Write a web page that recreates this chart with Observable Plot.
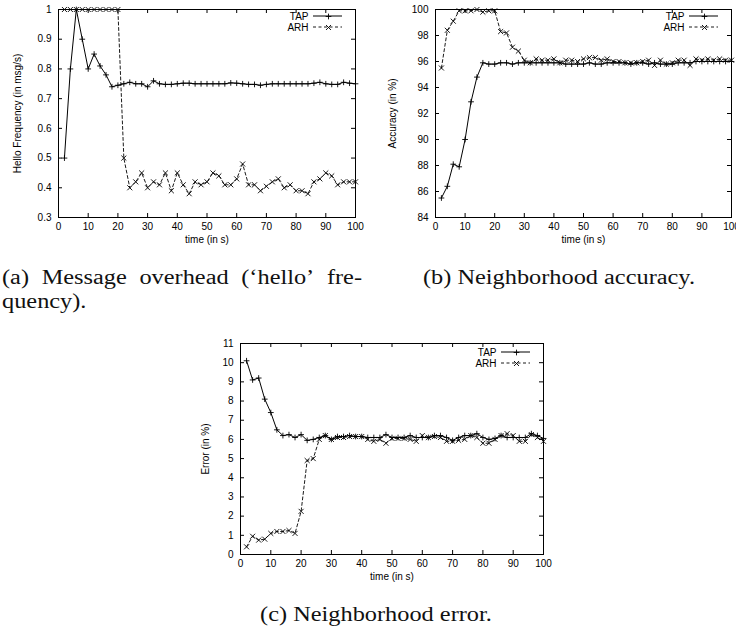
<!DOCTYPE html>
<html><head><meta charset="utf-8">
<script src="https://cdn.jsdelivr.net/npm/d3@7"></script>
<script src="https://cdn.jsdelivr.net/npm/@observablehq/plot@0.6"></script>
<style>
html,body{margin:0;padding:0;background:#fff;overflow:hidden}
#fig{position:relative;width:736px;height:634px;overflow:hidden;background:#fff}
.panel{position:absolute}
#caps{position:absolute;left:0;top:0}
</style></head><body><div id="fig"></div>
<script>
// ---------- data ----------
const time = [2,4,6,8,10,12,14,16,18,20,22,24,26,28,30,32,34,36,38,40,42,44,46,48,50,52,54,56,58,60,62,64,66,68,70,72,74,76,78,80,82,84,86,88,90,92,94,96,98,100];

const helloTAP = [0.50,0.80,1.00,0.90,0.80,0.85,0.81,0.78,0.74,0.745,
                  0.75,0.755,0.75,0.75,0.74,0.76,0.75,0.748,0.748,0.75,
                  0.752,0.752,0.75,0.75,0.75,0.75,0.75,0.75,0.753,0.752,
                  0.75,0.748,0.748,0.745,0.748,0.75,0.75,0.75,0.75,0.75,
                  0.75,0.75,0.752,0.755,0.75,0.748,0.748,0.755,0.752,0.75];
const helloARH = [1,1,1,1,1,1,1,1,1,1,
                  0.50,0.40,0.42,0.45,0.40,0.42,0.41,0.45,0.39,0.45,
                  0.41,0.38,0.42,0.41,0.42,0.45,0.44,0.41,0.41,0.43,
                  0.48,0.41,0.41,0.39,0.405,0.42,0.43,0.40,0.41,0.39,
                  0.39,0.38,0.42,0.43,0.45,0.44,0.41,0.42,0.42,0.42];

const accTAP = [85.5,86.4,88.1,87.9,90.0,92.9,94.8,95.9,95.8,95.8,
                95.9,95.9,95.8,95.9,95.9,95.9,95.9,95.9,95.9,95.9,
                95.9,95.8,95.8,95.8,95.8,95.9,95.8,95.8,95.9,95.9,
                95.9,95.9,95.8,95.9,95.9,95.8,95.9,95.8,95.8,95.8,
                95.9,95.9,95.9,96.0,96.0,96.0,96.0,96.0,96.0,96.0];
const accARH = [95.5,98.4,99.1,99.9,99.9,99.9,100,99.8,99.9,99.9,
                98.3,98.2,97.1,96.8,96.1,95.9,96.2,96.1,96.1,96.2,
                95.9,96.1,96.1,96.0,96.2,96.3,96.3,96.1,96.2,96.0,
                96.0,95.9,95.9,95.9,96.0,96.1,95.7,96.1,95.8,95.9,
                96.1,96.1,95.7,96.2,96.1,96.2,96.1,96.2,96.1,96.1];

const errTAP = [10.1,9.1,9.2,8.1,7.4,6.5,6.2,6.25,6.1,6.25,
                5.95,6.0,6.1,6.2,6.0,6.15,6.15,6.2,6.15,6.15,
                6.1,6.1,6.1,6.25,6.1,6.1,6.1,6.2,6.1,6.1,
                6.1,6.2,6.2,6.1,5.95,6.1,6.2,6.2,6.3,6.1,
                6.0,6.05,6.2,6.1,6.1,6.1,6.1,6.3,6.2,6.05];
const errARH = [0.4,0.95,0.75,0.8,1.1,1.2,1.2,1.25,1.1,2.25,
                4.9,5.0,6.0,6.2,6.0,6.1,6.1,6.15,6.15,6.15,
                6.0,5.9,6.0,5.8,6.05,6.05,6.05,6.0,5.9,6.2,
                6.1,6.15,6.1,5.9,5.9,5.95,6.0,6.2,6.1,5.8,
                5.8,6.0,6.2,6.3,6.2,5.9,5.9,6.25,6.1,5.9];

const xTicks = [0,10,20,30,40,50,60,70,80,90,100];
const helloTicks = [0.3,0.4,0.5,0.6,0.7,0.8,0.9,1];
const accTicks = [84,86,88,90,92,94,96,98,100];
const errTicks = [0,1,2,3,4,5,6,7,8,9,10,11];
const seriesNames = ["TAP","ARH"];
const xLabel = "time (in s)";
const helloLabel = "Hello Frequency (in msg/s)";
const accLabel = "Accuracy (in %)";
const errLabel = "Error (in %)";
const capA1 = ["(a)","Message","overhead","(\u2018hello\u2019","fre-"];
const capA2 = "quency).";
const capB = "(b) Neighborhood accuracy.";
const capC = "(c) Neighborhood error.";

// ---------- drawing ----------
const fig = document.getElementById("fig");
const fmt = d => String(+(+d).toFixed(2));

function makePanel(cfg) {
  const {left, top, width, height, mL, mR, mT, mB, yDomain, yTicks, yLabel, yLabelDx, tap, arh, lgDy0, lgDy1} = cfg;
  const rows = time.map((t, i) => ({t, tap: tap[i], arh: arh[i]}));
  const fw = width - mL - mR, fh = height - mT - mB;
  const tk = 4;
  const plot = Plot.plot({
    width, height,
    marginLeft: mL, marginRight: mR, marginTop: mT, marginBottom: mB,
    x: {domain: [0, 100]},
    y: {domain: yDomain},
    style: {fontFamily: '"Liberation Sans", Arial, Helvetica, sans-serif', fontSize: "10px", color: "#000", background: "transparent"},
    marks: [
      Plot.axisX(xTicks, {tickSize: 0, tickPadding: 5, label: null, tickFormat: fmt}),
      Plot.axisY(yTicks, {tickSize: 0, tickPadding: 7, label: null, tickFormat: fmt}),
      Plot.tickX(xTicks, {x: d => d, insetTop: fh - tk, stroke: "#000"}),
      Plot.tickX(xTicks, {x: d => d, insetBottom: fh - tk, stroke: "#000"}),
      Plot.tickY(yTicks, {y: d => d, insetRight: fw - tk, stroke: "#000"}),
      Plot.tickY(yTicks, {y: d => d, insetLeft: fw - tk, stroke: "#000"}),
      Plot.frame({stroke: "#000", strokeWidth: 1}),
      Plot.line(rows, {x: "t", y: "arh", stroke: "#000", strokeWidth: 0.9, strokeDasharray: "3,2.5"}),
      Plot.dot(rows, {x: "t", y: "arh", symbol: "times", r: 2.4, stroke: "#000", strokeWidth: 0.9}),
      Plot.line(rows, {x: "t", y: "tap", stroke: "#000", strokeWidth: 1}),
      Plot.dot(rows, {x: "t", y: "tap", symbol: "plus", r: 2, stroke: "#000", strokeWidth: 0.9}),
      Plot.text([xLabel], {frameAnchor: "bottom", dy: 22, lineAnchor: "middle", textAnchor: "middle", text: d => d, fill: "#000"}),
      Plot.text([yLabel], {frameAnchor: "left", dx: yLabelDx, rotate: -90, textAnchor: "middle", lineAnchor: "middle", text: d => d, fill: "#000"}),
      Plot.text([seriesNames[0]], {frameAnchor: "top-right", dx: -47, dy: lgDy0, textAnchor: "end", lineAnchor: "middle", text: d => d, fill: "#000"}),
      Plot.text([seriesNames[1]], {frameAnchor: "top-right", dx: -47, dy: lgDy1, textAnchor: "end", lineAnchor: "middle", text: d => d, fill: "#000"}),
      Plot.dot([seriesNames[0]], {frameAnchor: "top-right", dx: -27, dy: lgDy0, symbol: "plus", r: 2, stroke: "#000", strokeWidth: 0.9}),
      Plot.dot([seriesNames[1]], {frameAnchor: "top-right", dx: -27, dy: lgDy1, symbol: "times", r: 2.4, stroke: "#000", strokeWidth: 0.9})
    ]
  });
  // legend line samples (layout only)
  const svg = d3.select(plot);
  const x2 = width - mR - 13, x1 = x2 - 29;
  svg.append("line").attr("x1", x1).attr("x2", x2).attr("y1", mT + lgDy0).attr("y2", mT + lgDy0)
     .attr("stroke", "#000").attr("stroke-width", 1);
  svg.append("line").attr("x1", x1).attr("x2", x2).attr("y1", mT + lgDy1).attr("y2", mT + lgDy1)
     .attr("stroke", "#000").attr("stroke-width", 0.9).attr("stroke-dasharray", "3,2.5");
  const wrap = document.createElement("div");
  wrap.className = "panel";
  wrap.style.left = left + "px";
  wrap.style.top = top + "px";
  wrap.appendChild(plot);
  fig.appendChild(wrap);
}

makePanel({left: 0, top: 0, width: 370, height: 250, mL: 58, mR: 15, mT: 9, mB: 33,
  yDomain: [0.3, 1], yTicks: helloTicks, yLabel: helloLabel, yLabelDx: -41,
  tap: helloTAP, arh: helloARH, lgDy0: 7, lgDy1: 18});
makePanel({left: 370, top: 0, width: 366, height: 250, mL: 65, mR: 5, mT: 9, mB: 33,
  yDomain: [84, 100], yTicks: accTicks, yLabel: accLabel, yLabelDx: -43,
  tap: accTAP, arh: accARH, lgDy0: 7, lgDy1: 18});
makePanel({left: 200, top: 320, width: 360, height: 280, mL: 40, mR: 17, mT: 23, mB: 46,
  yDomain: [0, 11], yTicks: errTicks, yLabel: errLabel, yLabelDx: -35,
  tap: errTAP, arh: errARH, lgDy0: 9, lgDy1: 20});

// ---------- captions ----------
const caps = d3.select(fig).append("svg").attr("id", "caps").attr("width", 736).attr("height", 634);
const F = 20;
const capFont = '"Liberation Serif", "Times New Roman", serif';
function natural(str) {
  const t = caps.append("text").attr("font-family", capFont).attr("font-size", F).text(str);
  const w = t.node().getComputedTextLength();
  t.remove();
  return w;
}
const k = 272 / natural(capB);
function put(str, x, y) {
  const w = natural(str) * k;
  caps.append("text").attr("x", x).attr("y", y).attr("font-family", capFont).attr("font-size", F)
    .attr("fill", "#111").attr("textLength", w).attr("lengthAdjust", "spacingAndGlyphs").text(str);
  return w;
}
// (a) justified first line between x=2 and x=362
{
  const ws = capA1.map(s => natural(s) * k);
  const total = d3.sum(ws);
  const gap = (360 - total) / (capA1.length - 1);
  let x = 2;
  capA1.forEach((s, i) => { put(s, x, 284); x += ws[i] + gap; });
  put(capA2, 2, 308);
}
put(capB, 423, 284);
{
  const w = natural(capC) * k;
  put(capC, 376 - w / 2, 621);
}
</script></body></html>
